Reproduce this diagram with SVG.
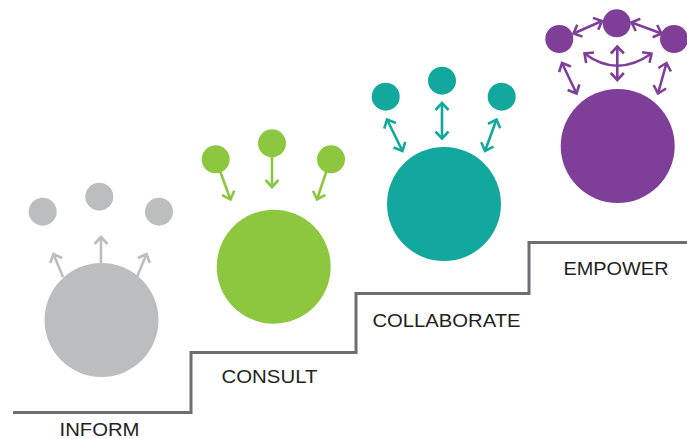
<svg xmlns="http://www.w3.org/2000/svg" width="687" height="439" viewBox="0 0 687 439">
  <style>
    .label { font-family: "Liberation Sans", Arial, sans-serif; font-size: 19px; fill: #231f20; }
    .stairs { fill: none; stroke: #6d6e71; stroke-width: 3; }
    .gray { fill: #bcbdc0; }
    .green { fill: #8dc63f; }
    .teal { fill: #13a89e; }
    .purple { fill: #7f3f98; }
    .a-gray { fill: none; stroke: #bcbdc0; stroke-width: 2.6; }
    .a-green { fill: none; stroke: #8dc63f; stroke-width: 2.6; }
    .a-teal { fill: none; stroke: #13a89e; stroke-width: 2.6; }
    .a-purple { fill: none; stroke: #7f3f98; stroke-width: 2.6; }
  </style>
  <defs>
    <marker id="head-gray" viewBox="0 0 10 16" refX="8" refY="8" markerWidth="10" markerHeight="16" markerUnits="userSpaceOnUse" orient="auto-start-reverse">
      <path d="M1,1.5 L8,8 L1,14.5" fill="none" stroke="#bcbdc0" stroke-width="2.6"/>
    </marker>
    <marker id="head-green" viewBox="0 0 10 16" refX="8" refY="8" markerWidth="10" markerHeight="16" markerUnits="userSpaceOnUse" orient="auto-start-reverse">
      <path d="M1,1.5 L8,8 L1,14.5" fill="none" stroke="#8dc63f" stroke-width="2.6"/>
    </marker>
    <marker id="head-teal" viewBox="0 0 10 16" refX="8" refY="8" markerWidth="10" markerHeight="16" markerUnits="userSpaceOnUse" orient="auto-start-reverse">
      <path d="M1,1.5 L8,8 L1,14.5" fill="none" stroke="#13a89e" stroke-width="2.6"/>
    </marker>
    <marker id="head-purple" viewBox="0 0 10 16" refX="8" refY="8" markerWidth="10" markerHeight="16" markerUnits="userSpaceOnUse" orient="auto-start-reverse">
      <path d="M1,1.5 L8,8 L1,14.5" fill="none" stroke="#7f3f98" stroke-width="2.6"/>
    </marker>
  </defs>

  <!-- staircase -->
  <path class="stairs" d="M13,412.5 H191 V352.5 H356 V293.5 H529 V242.5 H687"/>

  <!-- step labels -->
  <text class="label" x="59.5" y="436" textLength="80" lengthAdjust="spacingAndGlyphs">INFORM</text>
  <text class="label" x="221.5" y="382.5" textLength="96" lengthAdjust="spacingAndGlyphs">CONSULT</text>
  <text class="label" x="372.5" y="326.5" textLength="148" lengthAdjust="spacingAndGlyphs">COLLABORATE</text>
  <text class="label" x="563.5" y="275" textLength="105" lengthAdjust="spacingAndGlyphs">EMPOWER</text>

  <!-- inform -->
  <g id="inform">
    <circle class="gray" cx="101.5" cy="320" r="57"/>
    <circle class="gray" cx="42.7" cy="211.7" r="14"/>
    <circle class="gray" cx="99.3" cy="196.7" r="14"/>
    <circle class="gray" cx="159" cy="211.7" r="14"/>
  </g>

  <!-- consult -->
  <g id="consult">
    <circle class="green" cx="273.7" cy="266.7" r="57"/>
    <circle class="green" cx="215.7" cy="159.3" r="14"/>
    <circle class="green" cx="272" cy="143.3" r="14"/>
    <circle class="green" cx="331" cy="159.3" r="14"/>
  </g>

  <!-- collaborate -->
  <g id="collaborate">
    <circle class="teal" cx="444" cy="204" r="57"/>
    <circle class="teal" cx="385.7" cy="96.7" r="14"/>
    <circle class="teal" cx="442" cy="80.7" r="14"/>
    <circle class="teal" cx="501.7" cy="96.7" r="14"/>
  </g>

  <!-- empower -->
  <g id="empower">
    <circle class="purple" cx="617.7" cy="146" r="57"/>
    <circle class="purple" cx="559.3" cy="39" r="14"/>
    <circle class="purple" cx="616.7" cy="23.3" r="14"/>
    <circle class="purple" cx="674" cy="39" r="14"/>
  </g>

  <!-- connectors -->
  <g id="connectors">
    <!-- outward from inform -->
    <line class="a-gray" x1="63" y1="277" x2="53.5" y2="254" marker-end="url(#head-gray)"/>
    <line class="a-gray" x1="101" y1="263" x2="101" y2="237" marker-end="url(#head-gray)"/>
    <line class="a-gray" x1="137" y1="277" x2="146.5" y2="254" marker-end="url(#head-gray)"/>

    <!-- inward to consult -->
    <line class="a-green" x1="220" y1="171" x2="230.5" y2="199.5" marker-end="url(#head-green)"/>
    <line class="a-green" x1="272" y1="157" x2="272" y2="187" marker-end="url(#head-green)"/>
    <line class="a-green" x1="326.5" y1="171" x2="317" y2="199.5" marker-end="url(#head-green)"/>

    <!-- two-way for collaborate -->
    <line class="a-teal" x1="387" y1="119.5" x2="402.5" y2="151" marker-start="url(#head-teal)" marker-end="url(#head-teal)"/>
    <line class="a-teal" x1="442" y1="103" x2="442" y2="138.5" marker-start="url(#head-teal)" marker-end="url(#head-teal)"/>
    <line class="a-teal" x1="496.5" y1="119.5" x2="485" y2="151" marker-start="url(#head-teal)" marker-end="url(#head-teal)"/>

    <!-- network for empower -->
    <line class="a-purple" x1="573.5" y1="33.5" x2="602" y2="21" marker-start="url(#head-purple)" marker-end="url(#head-purple)"/>
    <line class="a-purple" x1="631.5" y1="22.5" x2="661.5" y2="33.5" marker-start="url(#head-purple)" marker-end="url(#head-purple)"/>
    <line class="a-purple" x1="617.3" y1="46.5" x2="617.3" y2="80" marker-start="url(#head-purple)" marker-end="url(#head-purple)"/>
    <path class="a-purple" d="M584.5,53.5 Q617,78 651.5,53.5" marker-start="url(#head-purple)" marker-end="url(#head-purple)"/>
    <line class="a-purple" x1="562" y1="63" x2="576.5" y2="93.5" marker-start="url(#head-purple)" marker-end="url(#head-purple)"/>
    <line class="a-purple" x1="666.5" y1="63" x2="658" y2="93.5" marker-start="url(#head-purple)" marker-end="url(#head-purple)"/>
  </g>
</svg>
